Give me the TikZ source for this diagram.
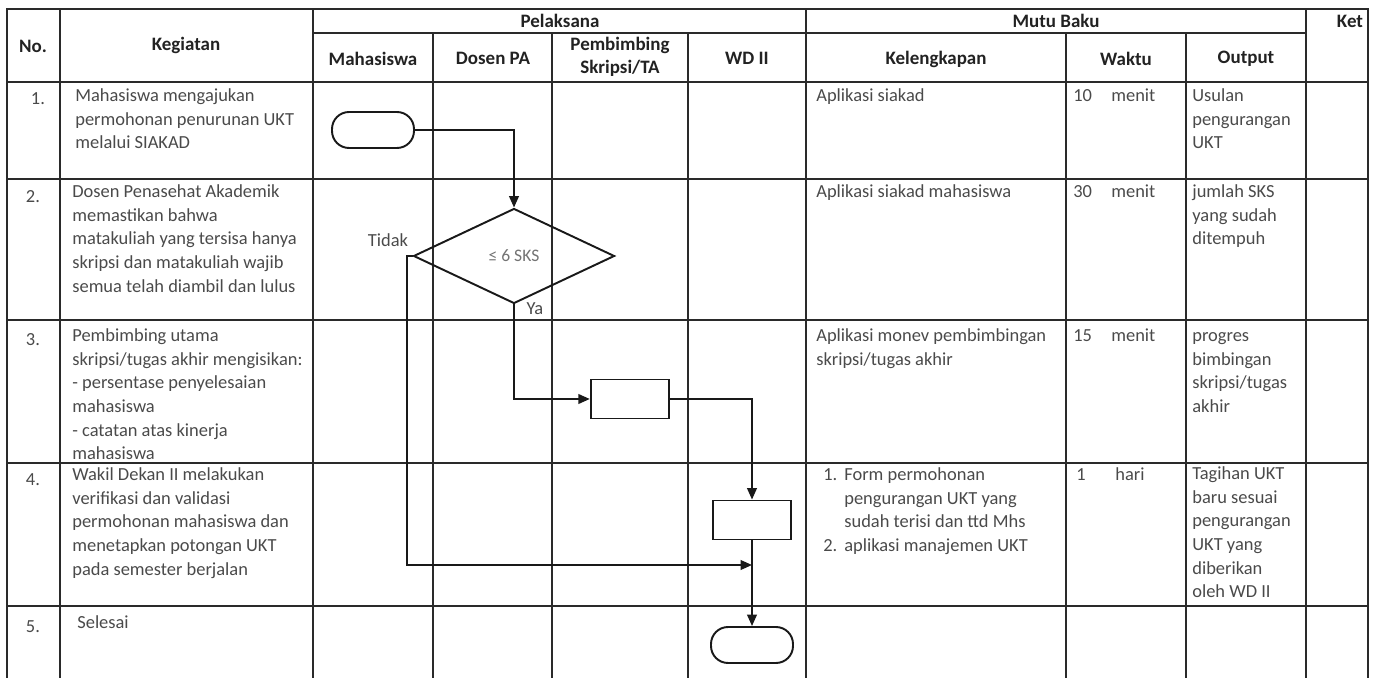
\documentclass[tikz,border=0pt]{standalone}
\usepackage{fontspec}
\setmainfont{Carlito}
\usetikzlibrary{arrows.meta,shapes.geometric}
\definecolor{linec}{HTML}{2A2A2A}
\definecolor{txtc}{HTML}{4A4A4A}
\definecolor{hdrc}{HTML}{222222}
\begin{document}
\begin{tikzpicture}[x=0.02cm,y=-0.02cm,
  grid/.style={draw=linec, line width=0.7pt},
  outer/.style={draw=linec, line width=1.3pt},
  hdr/.style={font=\fontsize{10.8}{13}\selectfont\bfseries, text=hdrc, inner sep=0, align=center},
  body/.style={font=\fontsize{10.5}{13.4}\selectfont, text=txtc, inner sep=0, anchor=north west, align=left},
  lbl/.style={font=\fontsize{10.5}{13}\selectfont, text=txtc, inner sep=0},
  flow/.style={draw=black!90, line width=1.1pt},
  term/.style={flow, rounded corners=0.34cm, minimum width=1.64cm, minimum height=0.72cm, inner sep=0},
  proc/.style={flow, minimum width=1.57cm, minimum height=0.78cm, inner sep=0},
  dec/.style={flow, diamond, aspect=2.1, minimum width=4.02cm, minimum height=1.9cm, inner sep=0,
    font=\fontsize{10}{12}\selectfont, text=black!55},
  arr/.style={flow, -{Triangle[length=6.5pt,width=5.5pt]}}
]
\useasboundingbox (0,0) rectangle (1373,678);
% table frame
\draw[outer] (7,678) -- (7,9) -- (1368,9) -- (1368,678);
\draw[grid] (313,33) -- (1306,33);
\foreach \yy in {82,179,320,463,606} {\draw[grid] (7,\yy) -- (1368,\yy);}
\foreach \xx in {60,313,806,1306} {\draw[grid] (\xx,9) -- (\xx,678);}
\foreach \xx in {433,552,688,1066,1186} {\draw[grid] (\xx,33) -- (\xx,678);}
% headers
\node[hdr] (hno) at (33,46) {No.};
\node[hdr] (hkeg) at (186,45) {Kegiatan};
\node[hdr] (hpel) at (560,21) {Pelaksana};
\node[hdr] (hmutu) at (1056,21) {Mutu Baku};
\node[hdr] (hket) at (1350,21) {Ket};
\node[hdr] (hmhs) at (373,59) {Mahasiswa};
\node[hdr] (hdpa) at (493,58) {Dosen PA};
\node[hdr] (hpem) at (620,57) {Pembimbing\\Skripsi/TA};
\node[hdr] (hwd) at (747,58) {WD II};
\node[hdr] (hkel) at (936,59) {Kelengkapan};
\node[hdr] (hwak) at (1126,59) {Waktu};
\node[hdr] (hout) at (1246,59) {Output};
% numbers
\node[lbl] (n1) at (38,99) {1.};
\node[lbl] (n2) at (33,197) {2.};
\node[lbl] (n3) at (33,340) {3.};
\node[lbl] (n4) at (33,480) {4.};
\node[lbl] (n5) at (33,627) {5.};
% kegiatan
\node[body] (k1) at (75,85) {\strut Mahasiswa mengajukan\\permohonan penurunan UKT\\melalui SIAKAD};
\node[body] (k2) at (72,181) {\strut Dosen Penasehat Akademik\\memastikan bahwa\\matakuliah yang tersisa hanya\\skripsi dan matakuliah wajib\\semua telah diambil dan lulus};
\node[body] (k3) at (72,325) {\strut Pembimbing utama\\skripsi/tugas akhir mengisikan:\\- persentase penyelesaian\\mahasiswa\\- catatan atas kinerja\\mahasiswa};
\node[body] (k4) at (72,464) {\strut Wakil Dekan II melakukan\\verifikasi dan validasi\\permohonan mahasiswa dan\\menetapkan potongan UKT\\pada semester berjalan};
\node[body] (k5) at (77,612) {\strut Selesai};
% kelengkapan
\node[body] (l1) at (816,85) {\strut Aplikasi siakad};
\node[body] (l2) at (816,181) {\strut Aplikasi siakad mahasiswa};
\node[body] (l3) at (816,325) {\strut Aplikasi monev pembimbingan\\skripsi/tugas akhir};
\node[body] (l4a) at (823,464) {\strut 1.};
\node[body] (l4b) at (844,464) {\strut Form permohonan\\pengurangan UKT yang\\sudah terisi dan ttd Mhs};
\node[body] (l4c) at (823,535) {\strut 2.};
\node[body] (l4d) at (844,535) {\strut aplikasi manajemen UKT};
% waktu
\node[body] (w1a) at (1073,85) {\strut 10};
\node[body] (w1b) at (1111,85) {\strut menit};
\node[body] (w2a) at (1073,181) {\strut 30};
\node[body] (w2b) at (1111,181) {\strut menit};
\node[body] (w3a) at (1073,325) {\strut 15};
\node[body] (w3b) at (1111,325) {\strut menit};
\node[body] (w4a) at (1076,464) {\strut 1};
\node[body] (w4b) at (1115,464) {\strut hari};
% output
\node[body] (o1) at (1192,85) {\strut Usulan\\pengurangan\\UKT};
\node[body] (o2) at (1192,181) {\strut jumlah SKS\\yang sudah\\ditempuh};
\node[body] (o3) at (1192,325) {\strut progres\\bimbingan\\skripsi/tugas\\akhir};
\node[body] (o4) at (1192,463) {\strut Tagihan UKT\\baru sesuai\\pengurangan\\UKT yang\\diberikan\\oleh WD II};
% flowchart
\node[term] (start) at (373,130) {};
\node[dec] (cek) at (514,256) {≤ 6 SKS};
\node[proc] (pemb) at (630,399) {};
\node[proc] (wd) at (752,520) {};
\node[term] (end) at (752,645) {};
\coordinate (tx) at (407,0);
\coordinate (tj) at (752,565);
\node[lbl] (tidak) at (388,240) {Tidak};
\node[lbl] (ya) at (535,309) {Ya};
\draw[arr] (start.east) -| (cek.north);
\draw[arr] (cek.west) -- (cek.west -| tx) |- (tj);
\draw[arr] (cek.south) |- (pemb.west);
\draw[arr] (pemb.east) -| (wd.north);
\draw[arr] (wd.south) -- (end.north);
\end{tikzpicture}
\end{document}
